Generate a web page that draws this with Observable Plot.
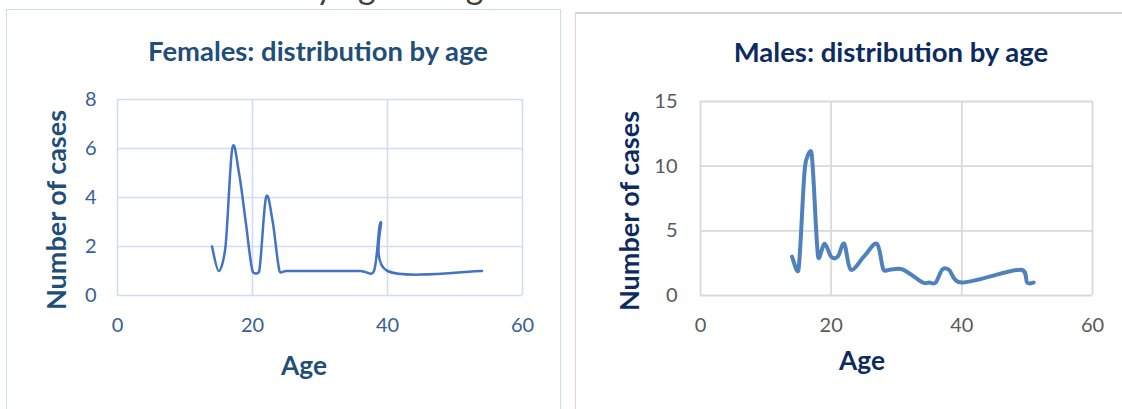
<!DOCTYPE html>
<html><head><meta charset="utf-8">
<script src="https://cdn.jsdelivr.net/npm/d3@7"></script>
<script src="https://cdn.jsdelivr.net/npm/@observablehq/plot@0.6"></script>
<style>
html,body{margin:0;padding:0;background:#fff;}
#page{position:relative;width:1122px;height:409px;overflow:hidden;font-family:Lato,"Open Sans",sans-serif;background:#fff;}
.abs{position:absolute;white-space:nowrap;line-height:1;}
.panel{position:absolute;box-sizing:border-box;pointer-events:none;}
.chart{position:absolute;top:0;}
</style></head>
<body><div id="page"></div>
<script>
// ---- data ----
const femaleAge   = [14,15,16,17,18,19,20,21,22,23,24,25,36,38,39,40,54];
const femaleCases = [ 2, 1, 2, 6, 5, 3, 1, 1, 4, 3, 1, 1, 1, 1, 3, 1, 1];
const maleAge   = [14,15,16,17,18,19,20,21,22,23,25,27,28,29,31,34,35,36,37,38,40,49,50,51];
const maleCases = [ 3, 2,10,11, 3, 4, 3, 3, 4, 2, 3, 4, 2, 2, 2, 1, 1, 1, 2, 2, 1, 2, 1, 1];
const xTicks = [0,20,40,60];
const femaleYTicks = [0,2,4,6,8];
const maleYTicks = [0,5,10,15];
const femaleTitle = "Females: distribution by age";
const maleTitle = "Males: distribution by age";
const yLabel = "Number of cases";
const xLabel = "Age";
const pageTitle = "Distribution by age and gender";

const femaleData = femaleAge.map((a,i)=>({age:a, cases:femaleCases[i]}));
const maleData = maleAge.map((a,i)=>({age:a, cases:maleCases[i]}));

// Spreadsheet-style smoothed line: cubic Bezier segments whose control
// vectors are 1/6 of the neighbour chord, capped at half the segment length.
function SmoothCurve(context){ this._context = context; }
SmoothCurve.prototype = {
  areaStart(){}, areaEnd(){},
  lineStart(){ this._pts = []; },
  point(x, y){ this._pts.push([+x, +y]); },
  lineEnd(){
    const p = this._pts, c = this._context, n = p.length;
    if (!n) return;
    c.moveTo(p[0][0], p[0][1]);
    const dist = (a, b) => Math.hypot(b[0]-a[0], b[1]-a[1]);
    for (let i = 0; i < n-1; i++){
      const p0 = p[Math.max(0,i-1)], p1 = p[i], p2 = p[i+1], p3 = p[Math.min(n-1,i+2)];
      const d12 = dist(p1,p2), d02 = dist(p0,p2), d13 = dist(p1,p3);
      let f0 = 1/6, f1 = 1/6;
      if (d02/6 >= d12/2 && d02 > 0) f0 = d12/d02/2;
      if (d13/6 >= d12/2 && d13 > 0) f1 = d12/d13/2;
      const c1 = [p1[0] + f0*(p2[0]-p0[0]), p1[1] + f0*(p2[1]-p0[1])];
      const c2 = [p2[0] - f1*(p3[0]-p1[0]), p2[1] - f1*(p3[1]-p1[1])];
      c.bezierCurveTo(c1[0], c1[1], c2[0], c2[1], p2[0], p2[1]);
    }
  }
};
const smooth = (context) => new SmoothCurve(context);

const page = document.getElementById("page");

function panel(left, top, width, height, border, extra){
  const d = document.createElement("div");
  d.className = "panel";
  Object.assign(d.style, {left:left+"px", top:top+"px", width:width+"px", height:height+"px", border}, extra||{});
  page.appendChild(d);
}

// ---- left chart ----
const fColor = "#375E95";
const left = Plot.plot({
  width: 566, height: 409,
  marginLeft: 117, marginRight: 44, marginTop: 99, marginBottom: 114,
  style: {background:"transparent", fontFamily:"Lato, sans-serif", fontSize:"20px", color:fColor, overflow:"visible"},
  x: {domain:[0,60]},
  y: {domain:[0,8]},
  marks: [
    Plot.gridX(xTicks, {stroke:"#CFDEF1", strokeOpacity:1, strokeWidth:1.6}),
    Plot.gridY(femaleYTicks, {stroke:"#CFDEF1", strokeOpacity:1, strokeWidth:1.6}),
    Plot.axisX(xTicks, {tickSize:0, tickPadding:22, label:null, tickFormat:d=>String(d)}),
    Plot.axisY(femaleYTicks, {tickSize:0, tickPadding:21, label:null, tickFormat:d=>String(d)}),
    Plot.line(femaleData, {x:"age", y:"cases", curve:smooth, stroke:"#333", strokeOpacity:0.35, strokeWidth:3, dx:1, dy:3, ariaLabel:"shadow"}),
    Plot.line(femaleData, {x:"age", y:"cases", curve:smooth, stroke:"#4472C4", strokeWidth:2.5})
  ]
});
left.classList.add("chart");
left.style.left = "0px";
page.appendChild(left);
const sh = left.querySelector('[aria-label="shadow"]');
if (sh) sh.style.filter = "blur(1.6px)";

// ---- right chart ----
const mColor = "#595959";
const right = Plot.plot({
  width: 556, height: 409,
  marginLeft: 134, marginRight: 30, marginTop: 101, marginBottom: 114,
  style: {background:"transparent", fontFamily:"Lato, sans-serif", fontSize:"20px", color:mColor, overflow:"visible"},
  x: {domain:[0,60]},
  y: {domain:[0,15]},
  marks: [
    Plot.gridX(xTicks, {stroke:"#D9D9D9", strokeOpacity:1, strokeWidth:1.8}),
    Plot.gridY(maleYTicks, {stroke:"#D9D9D9", strokeOpacity:1, strokeWidth:1.8}),
    Plot.axisX(xTicks, {tickSize:0, tickPadding:22, label:null, tickFormat:d=>String(d)}),
    Plot.axisY(maleYTicks, {tickSize:0, tickPadding:23, label:null, tickFormat:d=>String(d)}),
    Plot.line(maleData, {x:"age", y:"cases", curve:smooth, stroke:"#4F81BD", strokeWidth:4, strokeLinecap:"round", strokeLinejoin:"round"})
  ]
});
right.classList.add("chart");
right.style.left = "566px";
page.appendChild(right);

// panel borders
panel(6, 9, 555, 430, "1.5px solid #C9DCF0");
panel(575, 12, 570, 430, "1.5px solid #D9D9D9", {borderTop:"2px solid #D4D4D4"});

// ---- html labels ----
function label(text, cx, cy, width, color, bold, rotate){
  const d = document.createElement("div");
  d.className = "abs";
  d.textContent = text;
  d.style.fontSize = "20px";
  d.style.fontWeight = bold ? "700" : "400";
  d.style.color = color;
  page.appendChild(d);
  const w = d.offsetWidth;
  d.style.fontSize = (20*width/w).toFixed(2)+"px";
  d.style.left = cx+"px";
  d.style.top = cy+"px";
  d.style.transform = "translate(-50%,-50%)" + (rotate ? " rotate(-90deg)" : "");
  return d;
}
const fTitleColor = "#1F4E79";
const mTitleColor = "#0D2B5E";
label(femaleTitle, 318, 51, 340, fTitleColor, true);
label(maleTitle, 891, 52, 315, mTitleColor, true);
label(yLabel, 55.5, 210, 200, fTitleColor, true, true);
label(yLabel, 629, 211, 200, mTitleColor, true, true);
label(xLabel, 304, 365, 46, fTitleColor, true);
label(xLabel, 862, 360, 46, mTitleColor, true);

// cut-off page title at the very top (only descenders visible, as in the source)
(function(){
  const d = document.createElement("div");
  d.className = "abs";
  d.textContent = pageTitle;
  d.style.fontSize = "34px";
  d.style.color = "#404040";
  page.appendChild(d);
  const c = document.createElement("canvas").getContext("2d");
  c.font = "34px Lato";
  const pre = pageTitle.slice(0, pageTitle.indexOf("by ")+1);
  const yPos = c.measureText(pre).width + c.measureText("y").width/2;
  d.style.left = (325 - yPos)+"px";
  d.style.top = "-31px";
})();
</script>
</body></html>
